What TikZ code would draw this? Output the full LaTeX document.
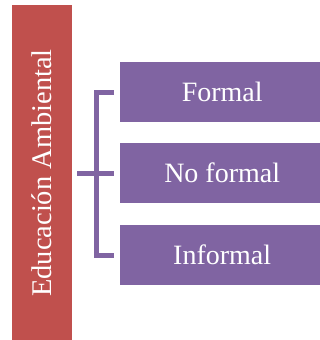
\documentclass[tikz,border=0pt]{standalone}
\usepackage{fontspec}
\setmainfont{Liberation Serif}
\definecolor{ored}{HTML}{C0504D}
\definecolor{opurple}{HTML}{8064A2}
\begin{document}
\begin{tikzpicture}[x=1bp,y=-1bp,
  catbox/.style={fill=opurple, draw=none, minimum width=204bp, minimum height=60bp, inner sep=0pt, anchor=north west, text=white, font=\fontsize{28bp}{30bp}\selectfont},
  brk/.style={draw=opurple, line width=5bp}]
\useasboundingbox (0,0) rectangle (320,340);
\fill[ored] (12.3,5) rectangle (71.7,340);
\node[rotate=90, text=white, font=\fontsize{28.5bp}{30bp}\selectfont, inner sep=0pt] (ea) at (42,173) {Educación Ambiental};
\node[catbox] (f) at (120,62) {Formal};
\node[catbox] (nf) at (120,143) {No formal};
\node[catbox] (inf) at (120,225) {Informal};
\coordinate (top) at (96,92.5);
\coordinate (bot) at (96,255);
\coordinate (mid) at (77,173.5);
\draw[brk] (114,92.5) -- (top) -- (bot) -- (114,255);
\draw[brk] (mid) -- (114,173.5);
\end{tikzpicture}
\end{document}
